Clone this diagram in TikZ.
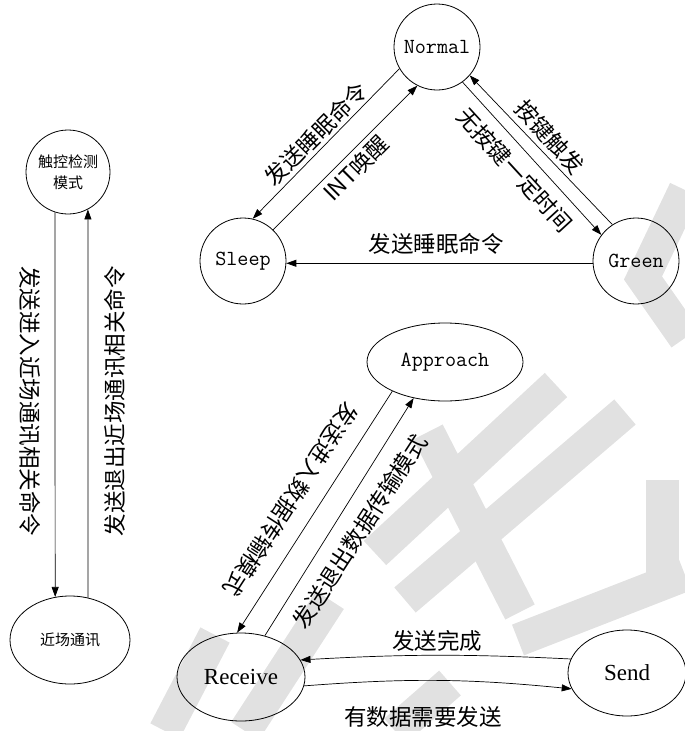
\documentclass[tikz,border=0pt]{standalone}
\usepackage{fontspec}
\setmainfont{Liberation Serif}
\newfontfamily\cjk{Noto Sans CJK SC}
\usetikzlibrary{shapes.geometric,arrows.meta}
\definecolor{wmgray}{RGB}{225,225,225}
\begin{document}
\begin{tikzpicture}[x=1pt,y=-1pt,
  st/.style={draw,circle,minimum size=86pt,inner sep=0pt,line width=0.8pt},
  el/.style={draw,ellipse,inner sep=0pt,line width=0.8pt},
  conn/.style={line width=0.7pt,-{Triangle[length=10pt,width=7pt]}},
  lbl/.style={font=\cjk\fontsize{22.5}{24}\selectfont,inner sep=0pt},
  small/.style={font=\cjk\fontsize{15}{21}\selectfont,align=center},
  mono/.style={font=\ttfamily\fontsize{21.5}{24}\selectfont},
  times/.style={font=\fontsize{23}{26}\selectfont},
  wm/.style={line width=33pt,color=wmgray}
]
\useasboundingbox (0,0) rectangle (685,731);
% watermark
\draw[wm] (685,190) -- (643,278) -- (685,338);
\draw[wm] (556,385) -- (375,553);
\draw[wm] (428,432) -- (520,612);
\draw[wm] (625,412) -- (405,600);
\draw[wm] (662,480) -- (662,590);
\draw[wm] (518,640) -- (685,575);
\draw[wm] (330,600) -- (245,731);
\draw[wm] (215,635) -- (165,731);
\draw[wm] (450,683) -- (395,731);

% left column
\node[st,minimum size=84pt,small] (T) at (68,172) {触控检测\\模式};
\node[el,small,minimum width=120pt,minimum height=88pt] (F) at (70,640) {近场通讯};
\draw[conn] (T.252) -- (F.109);
\draw[conn] (F.67) -- (T.298);
\node[lbl,rotate=-90] (l1) at (30,401) {发送进入近场通讯相关命令};
\node[lbl,rotate=90] (l2) at (115,401) {发送退出近场通讯相关命令};

% top triangle
\node[st,mono] (N) at (437,47) {Normal};
\node[st,mono] (S) at (243,261) {Sleep};
\node[st,mono] (G) at (636,261) {Green};
\draw[conn] (N.210) -- (S.77);
\draw[conn] (S.46) -- (N.243);
\draw[conn] (N.306) -- (G.143);
\draw[conn] (G.123) -- (N.319);
\draw[conn] (G.183) -- (S.357);
\node[lbl,rotate=45] (l3) at (316,134) {发送睡眠命令};
\node[lbl,rotate=45] (l4) at (356,168) {INT唤醒};
\node[lbl,rotate=-47.5] (l5) at (550,137) {按键触发};
\node[lbl,rotate=-47.5] (l6) at (515,170) {无按键一定时间};
\node[lbl] (l7) at (436,244) {发送睡眠命令};

% bottom triangle
\node[el,mono,minimum width=156pt,minimum height=78pt] (A) at (445,362) {Approach};
\node[el,times,minimum width=128pt,minimum height=88pt] (R) at (241,677) {Receive};
\node[el,times,minimum width=118pt,minimum height=86pt] (D) at (627,673) {Send};
\draw[conn] (A.209.5) -- (R.95);
\draw[conn] (R.60) -- (A.229);
\draw[conn] (D.166) to[bend right=3] (R.16);
\draw[conn] (R.352) to[bend left=5] (D.196);
\node[lbl,rotate=237] (l8) at (291,500) {发送进入数据传输模式};
\node[lbl,rotate=57] (l9) at (360,531) {发送退出数据传输模式};
\node[lbl] (l10) at (437,641) {发送完成};
\node[lbl] (l11) at (423,717) {有数据需要发送};
\end{tikzpicture}
\end{document}
